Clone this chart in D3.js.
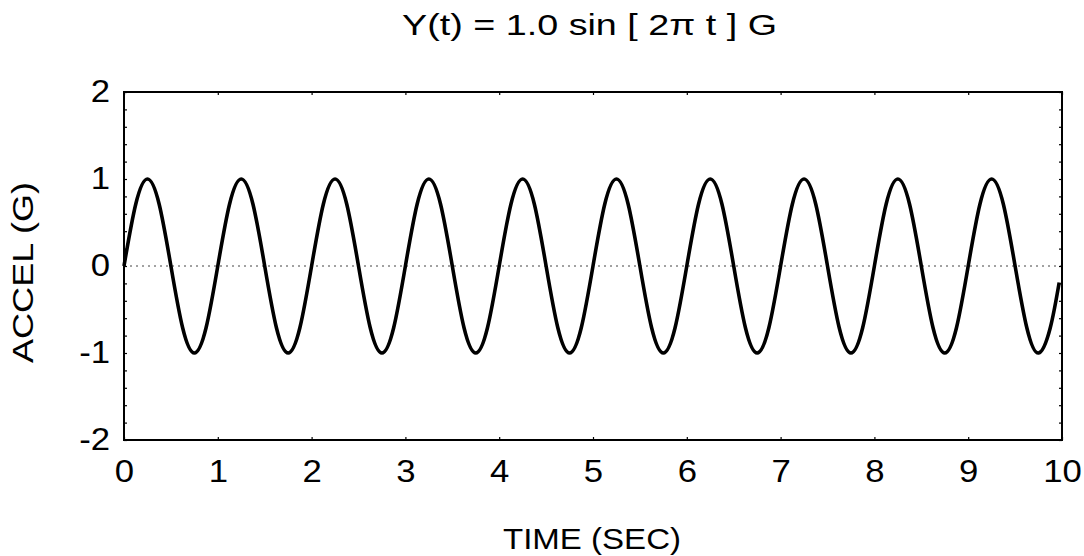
<!DOCTYPE html>
<html>
<head>
<meta charset="utf-8">
<script src="https://cdn.jsdelivr.net/npm/d3@7"></script>
<style>
  body { margin: 0; background: #fff; }
  svg { display: block; font-family: "Liberation Sans", Arial, sans-serif; }
</style>
</head>
<body>
<svg id="chart"></svg>
<script>
/* Sine acceleration record, 1 G at 1 Hz over 10 s */

const width = 1084, height = 556;
const margin = {top: 92, right: 22, bottom: 116, left: 124};

/*** values: one sample every 1/8 s */
const sampleStep = 0.125;
const accel = [
  0, 0.71, 1, 0.71, 0, -0.71, -1, -0.71,
  0, 0.71, 1, 0.71, 0, -0.71, -1, -0.71,
  0, 0.71, 1, 0.71, 0, -0.71, -1, -0.71,
  0, 0.71, 1, 0.71, 0, -0.71, -1, -0.71,
  0, 0.71, 1, 0.71, 0, -0.71, -1, -0.71,
  0, 0.71, 1, 0.71, 0, -0.71, -1, -0.71,
  0, 0.71, 1, 0.71, 0, -0.71, -1, -0.71,
  0, 0.71, 1, 0.71, 0, -0.71, -1, -0.71,
  0, 0.71, 1, 0.71, 0, -0.71, -1, -0.71,
  0, 0.71, 1, 0.71, 0, -0.71, -1, -0.71
];
// the record stops just short of 10 s
const lastTime = 9.97, lastAccel = -0.19;

const xTicks = [0, 1, 2, 3, 4, 5, 6, 7, 8, 9, 10];
const yLabels = [-2, -1, 0, 1, 2];
const yMinor = d3.range(-10, 11).map(i => i / 5);

const titleText = "Y(t) = 1.0 sin [ 2\u03C0 t ] G";
const xTitle = "TIME (SEC)";
const yTitle = "ACCEL (G)";

let data = accel.map((v, i) => ({t: i * sampleStep, v: v}));
data.push({t: lastTime, v: lastAccel});

const svg = d3.select("#chart")
    .attr("width", width)
    .attr("height", height);

/*** scales */
x = d3.scaleLinear()
    .domain([0, 10])
    .range([margin.left, width - margin.right]);

y = d3.scaleLinear()
    .domain([-2, 2])
    .range([height - margin.bottom, margin.top]);

// stretch text a bit wider, the original face runs wide
stretch = (sel, k) => sel.each(function () {
    let w = this.getComputedTextLength();
    if (w > 0) d3.select(this).attr("textLength", w * k).attr("lengthAdjust", "spacingAndGlyphs");
});

/*** zero line */
svg.append("line")
    .attr("x1", x(0)).attr("x2", x(10))
    .attr("y1", y(0)).attr("y2", y(0))
    .attr("stroke", "#444")
    .attr("stroke-width", 1)
    .attr("stroke-dasharray", "2,4");

/*** the curve */
svg.append("path")
    .datum(data)
    .attr("fill", "none")
    .attr("stroke", "#000")
    .attr("stroke-width", 3.6)
    .attr("stroke-linejoin", "round")
    .attr("d", d3.line()
        .x(d => x(d.t))
        .y(d => y(d.v))
        .curve(d3.curveNatural));

/*** axes, ticks point inward */
xAxis = g => g
    .attr("transform", `translate(0,${y(-2)})`)
    .call(d3.axisBottom(x).tickValues(xTicks).tickSize(-3).tickFormat(d => String(d)))
    .call(g => g.select(".domain").remove())
    .call(g => g.selectAll("text").attr("y", 42).attr("dy", null));

xTop = g => g
    .attr("transform", `translate(0,${y(2)})`)
    .call(d3.axisTop(x).tickValues(xTicks).tickSize(-3).tickFormat(""))
    .call(g => g.select(".domain").remove());

yAxis = g => g
    .attr("transform", `translate(${x(0)},0)`)
    .call(d3.axisLeft(y).tickValues(yMinor).tickSize(-3)
        .tickFormat(d => yLabels.includes(Math.round(d * 5) / 5) ? String(Math.round(d)) : ""))
    .call(g => g.select(".domain").remove())
    .call(g => g.selectAll("text").attr("x", -14));

yRight = g => g
    .attr("transform", `translate(${x(10)},0)`)
    .call(d3.axisRight(y).tickValues(yMinor).tickSize(-3).tickFormat(""))
    .call(g => g.select(".domain").remove());

svg.append("g").attr("class", "axis").call(xAxis);
svg.append("g").attr("class", "axis").call(xTop);
svg.append("g").attr("class", "axis").call(yAxis);
svg.append("g").attr("class", "axis").call(yRight);

svg.selectAll(".axis line").attr("stroke", "#000").attr("stroke-width", 1.2);
svg.selectAll(".axis text")
    .attr("font-family", "Liberation Sans, Arial, sans-serif")
    .attr("font-size", "31px")
    .attr("fill", "#000")
    .call(stretch, 1.12);

/*** frame */
svg.append("rect")
    .attr("x", x(0)).attr("y", y(2))
    .attr("width", x(10) - x(0))
    .attr("height", y(-2) - y(2))
    .attr("fill", "none")
    .attr("stroke", "#000")
    .attr("stroke-width", 2);

/*** titles */
svg.append("text")
    .attr("x", 589.5)
    .attr("y", 35)
    .attr("text-anchor", "middle")
    .attr("font-size", "30px")
    .attr("textLength", 375)
    .attr("lengthAdjust", "spacingAndGlyphs")
    .text(titleText);

svg.append("text")
    .attr("x", 592)
    .attr("y", 549)
    .attr("text-anchor", "middle")
    .attr("font-size", "30px")
    .attr("textLength", 178)
    .attr("lengthAdjust", "spacingAndGlyphs")
    .text(xTitle);

svg.append("text")
    .attr("transform", "translate(33,272.5) rotate(-90)")
    .attr("text-anchor", "middle")
    .attr("font-size", "30px")
    .attr("textLength", 181)
    .attr("lengthAdjust", "spacingAndGlyphs")
    .text(yTitle);
</script>
</body>
</html>
